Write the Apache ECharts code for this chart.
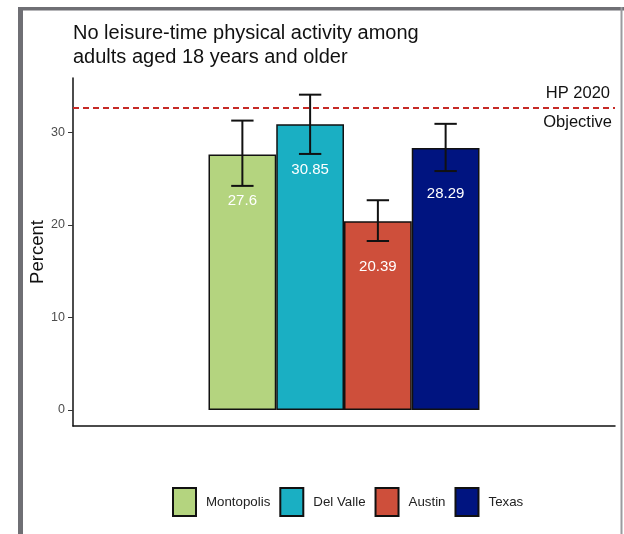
<!DOCTYPE html>
<html><head><meta charset="utf-8">
<script src="https://cdn.jsdelivr.net/npm/echarts@6/dist/echarts.min.js"></script>
<style>html,body{margin:0;padding:0;background:#fff}#c{width:624px;height:534px}</style>
</head><body><div id="c"></div>
<script>
const categories = ['Montopolis', 'Del Valle', 'Austin', 'Texas'];
const values = [27.6, 30.85, 20.39, 28.29];
const lower = [24.2, 27.65, 18.25, 25.8];
const upper = [31.25, 34.05, 22.65, 30.9];
const colors = ['#b4d47f', '#1aafc3', '#ce4f3b', '#001480'];
const yTicks = [0, 10, 20, 30];
const hpObjective = 32.6;
const titleLines = ['No leisure-time physical activity among', 'adults aged 18 years and older'];
const hpLabels = ['HP 2020', 'Objective'];
const yName = 'Percent';

const SANS = '"Liberation Sans", Arial, Helvetica, sans-serif';
const BAR_FRAC = 0.125;

const chart = echarts.init(document.getElementById('c'), null, {renderer: 'canvas'});

const barSeries = categories.map((name, i) => ({
  type: 'bar',
  name: name,
  data: [values[i]],
  barWidth: (BAR_FRAC * 100) + '%',
  barGap: '0%',
  itemStyle: {color: colors[i], borderColor: '#111', borderWidth: 1.5},
  label: {
    show: true, position: ['50%', 46], align: 'center', verticalAlign: 'middle',
    color: '#fff', fontSize: 15, fontFamily: SANS
  },
  z: 2
}));

barSeries[0].markLine = {
  silent: true, symbol: 'none', animation: false,
  data: [
    {yAxis: hpObjective, lineStyle: {color: '#c62a26', type: [6, 4], width: 2},
     label: {show: true, position: 'insideEndTop', formatter: hpLabels[0], color: '#111',
             fontSize: 16.5, fontFamily: SANS, distance: [5, 6]}}
  ]
};
barSeries[1].markLine = {
  silent: true, symbol: 'none', animation: false,
  data: [
    {yAxis: hpObjective, lineStyle: {color: 'rgba(0,0,0,0)', width: 0.5},
     label: {show: true, position: 'insideEndBottom', formatter: hpLabels[1], color: '#111',
             fontSize: 16.5, fontFamily: SANS, distance: [3, 6]}}
  ]
};

const errSeries = {
  type: 'custom',
  name: 'err',
  data: categories.map((c, i) => [0, lower[i], upper[i], i]),
  encode: {x: 0, y: [1, 2]},
  z: 5,
  renderItem: function (params, api) {
    const band = api.size([1, 0])[0];
    const bw = band * BAR_FRAC;
    const idx = api.value(3);
    const top = api.coord([api.value(0), api.value(2)]);
    const bot = api.coord([api.value(0), api.value(1)]);
    const x = top[0] + (idx - 1.5) * bw;
    const h = bw * 0.165;
    const st = {stroke: '#111', lineWidth: 2};
    return {type: 'group', children: [
      {type: 'line', shape: {x1: x, y1: top[1], x2: x, y2: bot[1]}, style: st},
      {type: 'line', shape: {x1: x - h, y1: top[1], x2: x + h, y2: top[1]}, style: st},
      {type: 'line', shape: {x1: x - h, y1: bot[1], x2: x + h, y2: bot[1]}, style: st}
    ]};
  }
};

chart.setOption({
  animation: false,
  backgroundColor: '#fff',
  title: {
    text: titleLines.join('\n'), left: 73, top: 21, padding: 0,
    textStyle: {fontSize: 20, lineHeight: 24, fontWeight: 'normal', color: '#111', fontFamily: SANS}
  },
  legend: {
    data: categories, left: 172, top: 487, padding: 0, itemWidth: 23, itemHeight: 28, itemGap: 9,
    icon: 'rect',
    textStyle: {fontSize: 13.3, color: '#222', fontFamily: SANS, padding: [0, 0, 0, 5]}
  },
  grid: {left: 73, right: 9, top: 78, bottom: 108, containLabel: false},
  xAxis: {
    type: 'category', data: [''],
    axisLine: {onZero: false, lineStyle: {color: '#111', width: 1.5}},
    axisTick: {show: false}, axisLabel: {show: false}, splitLine: {show: false}
  },
  yAxis: {
    type: 'value', min: -1.73, max: 35.85,
    name: yName, nameLocation: 'middle', nameGap: 26, nameRotate: 90, nameMoveOverlap: false,
    nameTextStyle: {fontSize: 18.5, color: '#111', fontFamily: SANS},
    axisLine: {show: true, lineStyle: {color: '#111', width: 1.5}},
    axisTick: {show: true, customValues: yTicks, length: 5, lineStyle: {color: '#333', width: 1}},
    axisLabel: {show: true, customValues: yTicks, margin: 8, fontSize: 12.5, color: '#4d4d4d', fontFamily: SANS},
    splitLine: {show: false}
  },
  graphic: [
    {type: 'rect', shape: {x: 18, y: 7, width: 606, height: 3.5}, style: {fill: '#6f6f74'}, silent: true},
    {type: 'rect', shape: {x: 18, y: 7, width: 5, height: 527}, style: {fill: '#6f6f74'}, silent: true},
    {type: 'rect', shape: {x: 620.5, y: 7, width: 2, height: 527}, style: {fill: '#9a9a9e'}, silent: true}
  ],
  series: barSeries.concat([errSeries])
});
</script></body></html>
